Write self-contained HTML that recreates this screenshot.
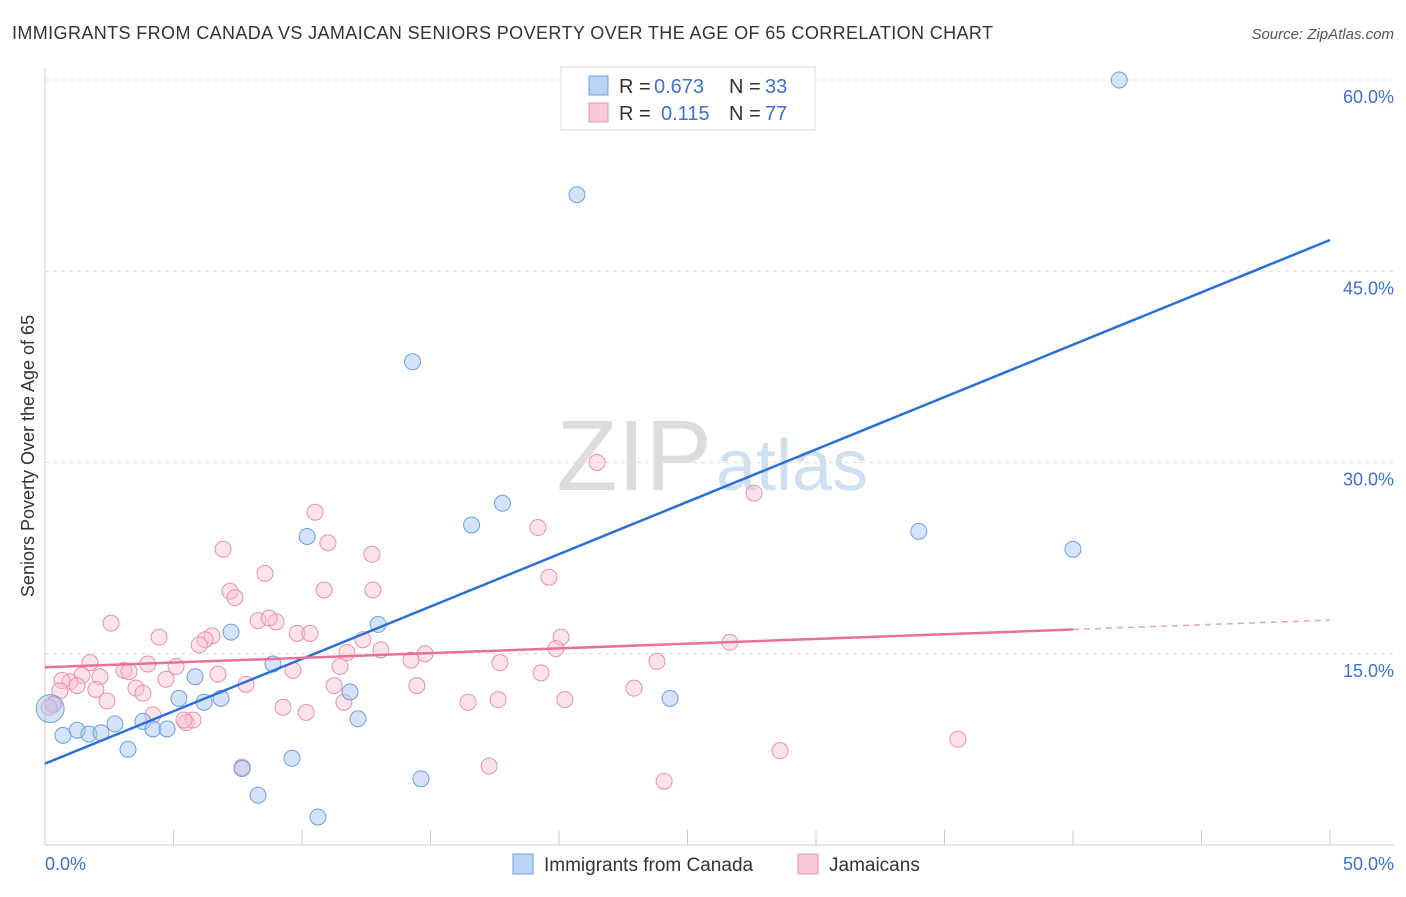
<!DOCTYPE html>
<html><head><meta charset="utf-8"><style>
body{margin:0;background:#fff;font-family:"Liberation Sans",sans-serif}
svg text{font-family:"Liberation Sans",sans-serif}
</style></head><body>
<svg id="c" width="1406" height="892">
<text x="12" y="39" font-size="18" fill="#333" textLength="981">IMMIGRANTS FROM CANADA VS JAMAICAN SENIORS POVERTY OVER THE AGE OF 65 CORRELATION CHART</text>
<text x="1394" y="39" font-size="15" fill="#555" font-style="italic" text-anchor="end">Source: ZipAtlas.com</text>
<text x="712" y="490" font-size="100" fill="#ddd" text-anchor="end" font-family="Liberation Serif">ZIP</text>
<text x="716" y="490" font-size="72" fill="#cfe0f2">atlas</text>
<text x="34" y="456" font-size="18" fill="#333" text-anchor="middle" transform="rotate(-90 34 456)">Seniors Poverty Over the Age of 65</text>
<g id="grid"></g><g id="pts"></g><g id="lines"></g>
<g>
<rect x="561" y="67" width="254" height="63" fill="#fff" stroke="#ddd"/>
<rect x="589" y="76" width="19" height="19" fill="#b8d4f5" stroke="#6fa0dd"/>
<rect x="589" y="103" width="19" height="19" fill="#f8c8d8" stroke="#e890b0"/>
<text x="619" y="93" font-size="20" fill="#333">R =</text>
<text x="654" y="93" font-size="20" fill="#3a72d0">0.673</text>
<text x="729" y="93" font-size="20" fill="#333">N =</text>
<text x="765" y="93" font-size="20" fill="#3a72d0">33</text>
<text x="619" y="120" font-size="20" fill="#333">R =</text>
<text x="661" y="120" font-size="20" fill="#3a72d0">0.115</text>
<text x="729" y="120" font-size="20" fill="#333">N =</text>
<text x="765" y="120" font-size="20" fill="#3a72d0">77</text>
</g>
<g>
<rect x="513" y="854" width="20" height="20" fill="#b8d4f5" stroke="#6fa0dd"/>
<text x="544" y="871" font-size="19" fill="#333">Immigrants from Canada</text>
<rect x="798" y="854" width="20" height="20" fill="#f8c8d8" stroke="#e890b0"/>
<text x="829" y="871" font-size="19" fill="#333">Jamaicans</text>
</g>
<text x="45" y="870" font-size="18" fill="#3a72d0">0.0%</text>
<text x="1394" y="870" font-size="18" fill="#3a72d0" text-anchor="end">50.0%</text>
</svg>
<script>
const yTicks=[15,30,45,60];
const yTickLabels=["15.0%","30.0%","45.0%","60.0%"];
const blueX=[41.8,20.7,14.3,17.8,16.6,10.2,34,40,12.96,7.24,8.87,5.84,11.87,5.21,24.32,6.19,6.85,12.18,3.81,2.72,1.25,0.7,1.71,2.18,4.2,4.75,3.23,9.61,7.67,14.63,8.29,10.62,0.2];
const blueY=[60,51,37.9,26.8,25.1,24.2,24.6,23.2,17.3,16.7,14.2,13.2,12,11.5,11.5,11.2,11.5,9.9,9.7,9.5,9,8.6,8.7,8.8,9.1,9.1,7.5,6.8,6,5.2,3.9,2.2,10.7];
const pinkX=[2.57,4.44,6.93,10.51,11.01,12.72,8.56,7.2,7.39,10.86,12.76,8.29,8.99,8.72,21.48,27.59,19.18,19.61,20.08,26.65,19.88,6.5,6.23,6,9.81,10.31,12.37,11.75,13.07,14.79,14.24,17.7,23.81,19.3,11.48,9.65,6.73,5.1,4,3.07,3.27,1.75,1.44,0.97,0.66,2.14,1.25,1.98,3.54,3.81,4.71,7.82,14.47,11.25,22.92,16.46,17.63,20.23,11.63,9.26,10.16,2.41,0.35,4.2,5.49,5.76,5.41,28.6,35.52,7.67,17.28,24.09,0.58,0.31,0.16];
const pinkY=[17.4,16.3,23.2,26.1,23.7,22.8,21.3,19.9,19.4,20,20,17.6,17.5,17.8,30,27.6,24.9,21,16.3,15.9,15.4,16.4,16.1,15.7,16.6,16.6,16.1,15.1,15.3,15,14.5,14.3,14.4,13.5,14,13.7,13.4,14,14.2,13.7,13.6,14.3,13.3,12.8,12.9,13.2,12.5,12.2,12.3,11.9,13,12.6,12.5,12.5,12.3,11.2,11.4,11.4,11.2,10.8,10.4,11.3,11.1,10.2,9.6,9.8,9.8,7.4,8.3,6.1,6.2,5,12.1,11,10.8];
const blueBig=[32];
const X=v=>45+v*25.7, Y=v=>845-v*12.75;
const NS="http://www.w3.org/2000/svg";
function mk(t,a,p){const e=document.createElementNS(NS,t);for(const k in a)e.setAttribute(k,a[k]);p.appendChild(e);return e;}
const g=document.getElementById('grid');
mk('line',{x1:45,y1:845,x2:1394,y2:845,stroke:'#ccc'},g);
mk('line',{x1:45,y1:68,x2:45,y2:845,stroke:'#ccc'},g);
for(let i=0;i<=10;i++){const t=mk('line',{x1:X(i*5),y1:830,x2:X(i*5),y2:845,stroke:'#ccc'},g);

}
yTicks.forEach((v,i)=>{const l=mk('line',{x1:45,y1:Y(v),x2:1394,y2:Y(v),stroke:'#ddd','stroke-dasharray':'4,4'},g);


const t=mk('text',{x:1394,y:Y(v)+23,'font-size':18,fill:'#3a72d0','text-anchor':'end'},g);t.textContent=yTickLabels[i];

});
const p=document.getElementById('pts');
pinkX.forEach((x,i)=>{const c=mk('circle',{cx:X(x),cy:Y(pinkY[i]),r:8,fill:'rgba(248,190,210,0.45)',stroke:'#e890b0','stroke-width':1},p);

});
blueX.forEach((x,i)=>{const c=mk('circle',{cx:X(x),cy:Y(blueY[i]),r:blueBig.includes(i)?14:8,fill:'rgba(170,200,240,0.5)',stroke:'#6fa0dd','stroke-width':1},p);

});
function fit(xs,ys){const n=xs.length,mx=xs.reduce((a,b)=>a+b)/n,my=ys.reduce((a,b)=>a+b)/n;let sxy=0,sxx=0;xs.forEach((x,i)=>{sxy+=(x-mx)*(ys[i]-my);sxx+=(x-mx)**2});const b=sxy/sxx;return [my-b*mx,b];}
const L=document.getElementById('lines');
const [ba,bb]=fit(blueX,blueY);
let e=mk('line',{x1:X(0),y1:Y(ba),x2:X(50),y2:Y(ba+bb*50),stroke:'#2a6fd6','stroke-width':2.5},L);


const [pa,pb]=fit(pinkX,pinkY);
e=mk('line',{x1:X(0),y1:Y(pa),x2:X(40),y2:Y(pa+pb*40),stroke:'#e8709a','stroke-width':2.5},L);


e=mk('line',{x1:X(40),y1:Y(pa+pb*40),x2:X(50),y2:Y(pa+pb*50),stroke:'#e8a0b8','stroke-width':1.5,'stroke-dasharray':'6,5'},L);


</script>
</body></html>
